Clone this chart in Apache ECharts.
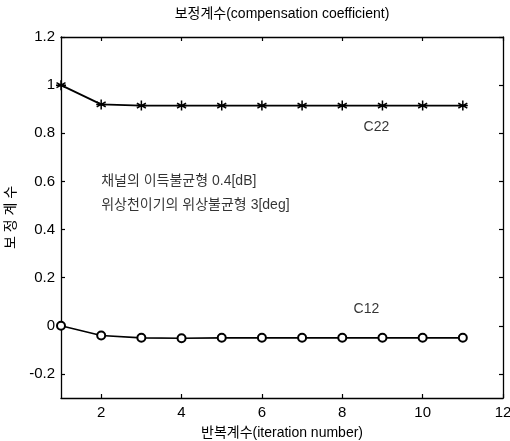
<!DOCTYPE html>
<html>
<head>
<meta charset="utf-8">
<script src="https://cdn.jsdelivr.net/npm/echarts@6/dist/echarts.min.js"></script>
<style>
  html, body { margin: 0; padding: 0; background: #fff; }
  #chart { width: 510px; height: 441px; }
</style>
</head>
<body>
<div id="chart"></div>
<script>
// Iteration numbers and the two coefficient traces
const iterations = [1, 2, 3, 4, 5, 6, 7, 8, 9, 10, 11];
const c22 = [1.0, 0.92, 0.915, 0.915, 0.915, 0.915, 0.915, 0.915, 0.915, 0.915, 0.915];
const c12 = [0.0, -0.04, -0.05, -0.052, -0.05, -0.05, -0.05, -0.05, -0.05, -0.05, -0.05];

// Tick positions
const xTicks = [2, 4, 6, 8, 10, 12];
const yTicks = [-0.2, 0, 0.2, 0.4, 0.6, 0.8, 1, 1.2];

// Text notes placed in data coordinates
const notes = [
  { x: 8.6, y: 0.07, text: 'C12', align: 'center' },
  { x: 8.85, y: 0.825, text: 'C22', align: 'center' },
  { x: 2.0, y: 0.6, text: '채널의 이득불균형 0.4[dB]', align: 'left' },
  { x: 2.0, y: 0.5, text: '위상천이기의 위상불균형 3[deg]', align: 'left' }
];

const FONT = '"Liberation Sans", Arial, "Noto Sans CJK KR", sans-serif';
const INK = '#000';

const asterisk = 'path://M0,-5L0,5M-4.5,-2.5L4.5,2.5M-4.5,2.5L4.5,-2.5M-5,0L5,0';

const chart = echarts.init(document.getElementById('chart'), null, { renderer: 'canvas' });

const axisCommon = {
  type: 'value',
  splitLine: { show: false },
  axisLine: { show: true, onZero: false, lineStyle: { color: INK, width: 1.3 } },
  axisTick: { show: true, inside: true, length: 4, lineStyle: { color: INK, width: 1.2 } }
};

chart.setOption({
  animation: false,
  backgroundColor: '#fff',
  grid: { left: 61, right: 7, top: 37, bottom: 43, containLabel: false, outerBoundsMode: 'none' },
  xAxis: [
    Object.assign({}, axisCommon, {
      position: 'bottom',
      min: 1, max: 12,
      axisTick: Object.assign({}, axisCommon.axisTick, { customValues: xTicks }),
      axisLabel: { customValues: xTicks, color: INK, fontFamily: FONT, fontSize: 15, margin: 7 },
      name: '반복계수(iteration number)',
      nameLocation: 'middle',
      nameGap: 28,
      nameTextStyle: { color: INK, fontFamily: FONT, fontSize: 14 }
    }),
    Object.assign({}, axisCommon, {
      position: 'top',
      min: 1, max: 12,
      axisTick: Object.assign({}, axisCommon.axisTick, { customValues: xTicks }),
      axisLabel: { show: false },
      name: '보정계수(compensation coefficient)',
      nameLocation: 'middle',
      nameGap: 16,
      nameTextStyle: { color: INK, fontFamily: FONT, fontSize: 14 }
    })
  ],
  yAxis: [
    Object.assign({}, axisCommon, {
      position: 'left',
      min: -0.3, max: 1.2,
      axisTick: Object.assign({}, axisCommon.axisTick, { customValues: yTicks }),
      axisLabel: {
        customValues: yTicks, color: INK, fontFamily: FONT, fontSize: 15, margin: 6,
        formatter: v => String(Math.round(v * 10) / 10)
      },
      name: '보 정 계 수',
      nameLocation: 'middle',
      nameGap: 40,
      nameTextStyle: { color: INK, fontFamily: FONT, fontSize: 14 }
    }),
    Object.assign({}, axisCommon, {
      position: 'right',
      min: -0.3, max: 1.2,
      axisTick: Object.assign({}, axisCommon.axisTick, { customValues: yTicks }),
      axisLabel: { show: false }
    })
  ],
  series: [
    {
      name: 'C22',
      type: 'line',
      data: iterations.map((x, i) => [x, c22[i]]),
      symbol: asterisk,
      symbolSize: 10,
      showAllSymbol: true,
      lineStyle: { color: INK, width: 1.8 },
      itemStyle: { color: INK, borderColor: INK, borderWidth: 1.5 }
    },
    {
      name: 'C12',
      type: 'line',
      data: iterations.map((x, i) => [x, c12[i]]),
      symbol: 'emptyCircle',
      symbolSize: 8,
      showAllSymbol: true,
      lineStyle: { color: INK, width: 1.6 },
      itemStyle: { color: INK, borderColor: INK, borderWidth: 1.3 }
    },
    {
      name: 'notes',
      type: 'scatter',
      symbolSize: 0,
      silent: true,
      data: notes.map(n => ({
        value: [n.x, n.y],
        label: {
          show: true,
          position: 'inside',
          formatter: n.text,
          align: n.align,
          verticalAlign: 'middle',
          color: INK,
          fontFamily: FONT,
          fontSize: 14
        }
      }))
    }
  ]
});
</script>
</body>
</html>
